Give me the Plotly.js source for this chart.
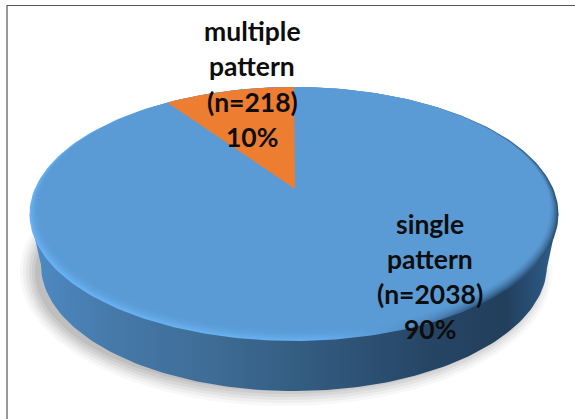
<!DOCTYPE html>
<html>
<head>
<meta charset="utf-8">
<script src="https://cdn.plot.ly/plotly-3.0.1.min.js"></script>
<style>html,body{margin:0;padding:0;background:#fff}#chart{width:575px;height:419px}</style>
</head>
<body>
<div id="chart"></div>
<script>
const categories = ["single pattern", "multiple pattern"];
const counts = [2038, 218];
const percentLabels = ["90%", "10%"];
const singleLines = ["single", "pattern", "(n=2038)", "90%"];
const multipleLines = ["multiple", "pattern", "(n=218)", "10%"];

const FACE = {cx: 294, cy: 214, a: 264.5, b: 127};
const BASE = {cx: 294, cy: 265, a: 253, b: 126};
const APEX = {x: 295, y: 189, squash: 0.47};

function ellipse(e, from, to, n) {
  const xs = [], ys = [];
  for (let i = 0; i <= n; i++) {
    const t = (from + (to - from) * i / n) * Math.PI / 180;
    xs.push(e.cx + e.a * Math.cos(t));
    ys.push(e.cy + e.b * Math.sin(t));
  }
  return {x: xs, y: ys};
}
function poly(xy, color, extra) {
  return Object.assign({x: xy.x, y: xy.y, mode: 'lines', fill: 'toself', fillcolor: color,
    line: {width: 0}, hoverinfo: 'skip', showlegend: false}, extra || {});
}
const traces = [];

// soft shadow below the disc
[[16, .04], [13, .05], [10, .06], [7, .07], [4, .08], [1, .09]].forEach(([g, alpha]) => {
  traces.push(poly(ellipse({cx: 286, cy: 272, a: 250 + g, b: 118 + g}, 0, 360, 180), 'rgba(70,70,70,' + alpha + ')'));
});

// side wall
const lower = ellipse(BASE, 0, 180, 120);
const wall = {
  x: [FACE.cx + FACE.a].concat(lower.x, [FACE.cx - FACE.a, FACE.cx - FACE.a, FACE.cx + FACE.a]),
  y: [FACE.cy].concat(lower.y, [FACE.cy, FACE.cy, FACE.cy])
};
traces.push(poly(wall, '#3a6a94', {
  fillgradient: {type: 'horizontal', start: 30, stop: 558, colorscale: [
    [0, '#4d8ac4'], [0.16, '#4679a9'], [0.36, '#3d6b94'], [0.56, '#31587c'],
    [0.76, '#264565'], [0.9, '#223f5c'], [1, '#2f5f8c']]}
}));

// bevel rim of the top face
traces.push(poly(ellipse(FACE, 0, 360, 240), '#5b9bd5', {
  fillgradient: {type: 'horizontal', start: 30, stop: 558, colorscale: [
    [0, '#6ab2f4'], [0.55, '#66aef0'], [0.72, '#5590c8'], [0.86, '#2f5a84'], [1, '#2b5278']]}
}));
[[1.5, 0.25], [3, 0.3], [4.5, 0.35], [6, 0.45], [7.5, 0.6], [9, 1]].forEach(([inset, alpha]) => {
  traces.push(poly(ellipse({cx: FACE.cx, cy: FACE.cy - inset * 0.6, a: FACE.a - inset * 0.9, b: FACE.b - inset * 0.6}, 0, 360, 240),
    'rgba(91,155,213,' + alpha + ')'));
});

// the small slice, swept from twelve o'clock by its share of the total
const total = counts[0] + counts[1];
const sweep = 2 * Math.PI * counts[1] / total;
const dx = -Math.sin(sweep), dy = -APEX.squash * Math.cos(sweep);
const A = (dx * dx) / (FACE.a * FACE.a) + (dy * dy) / (FACE.b * FACE.b);
const ox = APEX.x - FACE.cx, oy = APEX.y - FACE.cy;
const B = 2 * (ox * dx / (FACE.a * FACE.a) + oy * dy / (FACE.b * FACE.b));
const C = (ox * ox) / (FACE.a * FACE.a) + (oy * oy) / (FACE.b * FACE.b) - 1;
const r = (-B + Math.sqrt(B * B - 4 * A * C)) / (2 * A);
const hitX = APEX.x + r * dx, hitY = APEX.y + r * dy;
const endAngle = Math.atan2((hitY - FACE.cy) / FACE.b, (hitX - FACE.cx) / FACE.a) * 180 / Math.PI;
const arc = ellipse(FACE, endAngle < 0 ? endAngle : endAngle - 360, -90, 40);
traces.push(poly({x: [APEX.x].concat(arc.x, [APEX.x]), y: [APEX.y].concat(arc.y, [APEX.y])}, '#ed7d31'));

// labels, one line each
const labelFont = {family: 'Lato, "Open Sans", sans-serif', size: 26.5, color: '#0d0d0d', weight: 700};
function lineAnn(lines, x, y0, step) {
  return lines.map((t, i) => ({x: x, y: y0 + i * step, xref: 'x', yref: 'y', text: '<b>' + t + '</b>',
    showarrow: false, font: labelFont, xanchor: 'center', yanchor: 'middle'}));
}

const layout = {
  width: 575, height: 419,
  margin: {l: 0, r: 0, t: 0, b: 0, pad: 0},
  paper_bgcolor: '#ffffff', plot_bgcolor: '#ffffff',
  showlegend: false,
  xaxis: {range: [0, 575], visible: false, fixedrange: true},
  yaxis: {range: [419, 0], visible: false, fixedrange: true},
  annotations: lineAnn(multipleLines, 252, 31, 35.3).concat(lineAnn(singleLines, 430, 224, 35)),
  shapes: [
    {type: 'line', xref: 'x', yref: 'y', x0: 7, x1: 575, y0: 5.5, y1: 5.5, line: {color: '#555555', width: 1.2}},
    {type: 'line', xref: 'x', yref: 'y', x0: 7, x1: 7, y0: 5, y1: 419, line: {color: '#555555', width: 1.2}}
  ]
};
Plotly.newPlot('chart', traces, layout, {displayModeBar: false, staticPlot: true});
</script>
</body>
</html>
